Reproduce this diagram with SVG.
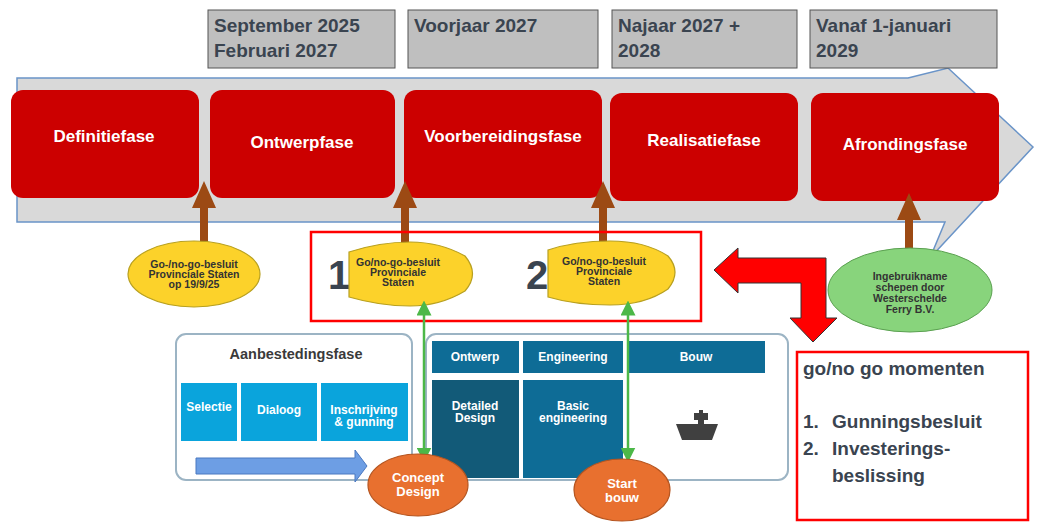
<svg xmlns="http://www.w3.org/2000/svg" width="1049" height="531" viewBox="0 0 1049 531">
<style>
text{font-family:"Liberation Sans",Arial,sans-serif;font-weight:bold}
.date{fill:#bfbfbf;stroke:#555;stroke-width:1}
.dt{font-size:19px;fill:#3a4450}
.phase{fill:#cc0000}
.pt{font-size:17px;fill:#fff;text-anchor:middle}
.yel{fill:#fcd22a;stroke:#b8a020;stroke-width:1.2}
.yt{font-size:10.5px;fill:#333;text-anchor:middle}
.up{fill:#9c4a14}
.blue{fill:#0aa4dc}
.bt{font-size:12px;fill:#fff;text-anchor:middle}
.dark{fill:#0e6c96}
.org{fill:#e8702f;stroke:#b55520;stroke-width:1.2}
.ot{font-size:13px;fill:#fff;text-anchor:middle}
.grn{stroke:#4cb848;stroke-width:2.5;fill:none}
</style>
<defs>
<marker id="ga" markerWidth="6" markerHeight="6" refX="3" refY="3" orient="auto-start-reverse" markerUnits="strokeWidth"><path d="M0,0 L6,3 L0,6 z" fill="#4cb848"/></marker>
</defs>
<rect width="1049" height="531" fill="#fff"/>
<g id="bigarrow"><polygon points="17,78 908,78 948,68 1033,147 930,258 945,222 17,222" fill="#d9d9d9" stroke="#6a94c8" stroke-width="1.5"/></g>
<g id="dates">
<rect class="date" x="208" y="10" width="187" height="58"/><text class="dt" x="214" y="32">September 2025</text><text class="dt" x="214" y="57">Februari 2027</text>
<rect class="date" x="408" y="10" width="190" height="58"/><text class="dt" x="414" y="32">Voorjaar 2027</text>
<rect class="date" x="612" y="10" width="185" height="58"/><text class="dt" x="618" y="32">Najaar 2027 +</text><text class="dt" x="618" y="57">2028</text>
<rect class="date" x="810" y="10" width="187" height="58"/><text class="dt" x="816" y="32">Vanaf 1-januari</text><text class="dt" x="816" y="57">2029</text>
</g>
<g id="phases">
<rect class="phase" x="11" y="90" width="188" height="108" rx="12"/><text class="pt" x="104" y="142">Definitiefase</text>
<rect class="phase" x="210" y="90" width="185" height="108" rx="12"/><text class="pt" x="302" y="148">Ontwerpfase</text>
<rect class="phase" x="404" y="90" width="198" height="108" rx="12"/><text class="pt" x="503" y="142">Voorbereidingsfase</text>
<rect class="phase" x="610" y="93" width="188" height="108" rx="12"/><text class="pt" x="704" y="146">Realisatiefase</text>
<rect class="phase" x="811" y="93" width="188" height="108" rx="12"/><text class="pt" x="905" y="150">Afrondingsfase</text>
</g>
<g id="uparrows">
<polygon class="up" points="200,255 200,208 192,208 204,181 216,208 208,208 208,255"/>
<polygon class="up" points="401,245 401,208 393,208 405,181 417,208 409,208 409,245"/>
<polygon class="up" points="599,245 599,208 591,208 603,181 615,208 607,208 607,245"/>
<polygon class="up" points="905,255 905,220 897,220 909,193 921,220 913,220 913,255"/>
</g>
<rect x="311" y="232" width="390" height="89" fill="none" stroke="#f00" stroke-width="2.5"/>
<g id="go0"><ellipse class="yel" cx="194" cy="274" rx="66" ry="33"/><text class="yt" x="194" y="268">Go-/no-go-besluit</text><text class="yt" x="194" y="278">Provinciale Staten</text><text class="yt" x="194" y="288">op 19/9/25</text></g>
<text x="328" y="289" font-size="40" fill="#3a4450">1</text>
<g id="go1"><path d="M349,252 Q380,242 410,242 Q440,242 465,256 Q480,274 465,291 Q440,306 410,306 Q380,306 349,297 Z" class="yel"/><text class="yt" x="398" y="266">Go/no-go-besluit</text><text class="yt" x="398" y="276">Provinciale</text><text class="yt" x="398" y="286">Staten</text></g>
<text x="526" y="289" font-size="40" fill="#3a4450">2</text>
<g id="go2"><path d="M548,250 Q575,241 610,241 Q645,241 668,256 Q682,272 668,289 Q645,305 610,305 Q575,305 548,297 Z" class="yel"/><text class="yt" x="604" y="265">Go/no-go-besluit</text><text class="yt" x="604" y="275">Provinciale</text><text class="yt" x="604" y="285">Staten</text></g>
<g id="ingebruik"><ellipse cx="910" cy="290" rx="82" ry="42" fill="#88d47c" stroke="#5aa050"/><text class="yt" x="910" y="280">Ingebruikname</text><text class="yt" x="910" y="291">schepen door</text><text class="yt" x="910" y="302">Westerschelde</text><text class="yt" x="910" y="313">Ferry B.V.</text></g>
<g id="redarrow"><polygon points="714,270 738,248 738,258 826,258 826,318 837,318 813,342 790,318 801,318 801,283 738,283 738,293" fill="#f00" stroke="#333" stroke-width="1"/></g>
<g id="aanbesteding">
<rect x="176" y="334" width="236" height="146" rx="10" fill="#fff" stroke="#9cb4c4" stroke-width="2"/>
<text x="296" y="359" font-size="14.5" fill="#3a3a3a" text-anchor="middle">Aanbestedingsfase</text>
<rect class="blue" x="181" y="383" width="56" height="58"/><text class="bt" x="209" y="411">Selectie</text>
<rect class="blue" x="241" y="383" width="76" height="58"/><text class="bt" x="279" y="414">Dialoog</text>
<rect class="blue" x="321" y="383" width="87" height="58"/><text class="bt" x="364" y="414">Inschrijving</text><text class="bt" x="364" y="426">&amp; gunning</text>
<polygon points="196,458 355,458 355,450 367,466 355,482 355,474 196,474" fill="#6d9ee4" stroke="#4a78c0"/>
</g>
<g id="realisatie">
<rect x="426" y="334" width="362" height="146" rx="10" fill="#fff" stroke="#9cb4c4" stroke-width="2"/>
<rect class="dark" x="432" y="341" width="87" height="32"/><text class="bt" x="475" y="361">Ontwerp</text>
<rect class="dark" x="523" y="341" width="100" height="32"/><text class="bt" x="573" y="361">Engineering</text>
<rect class="dark" x="627" y="341" width="138" height="32"/><text class="bt" x="696" y="361">Bouw</text>
<rect x="432" y="380" width="87" height="98" fill="#125a78"/><text class="bt" x="475" y="410">Detailed</text><text class="bt" x="475" y="422">Design</text>
<rect class="dark" x="523" y="380" width="100" height="98"/><text class="bt" x="573" y="410">Basic</text><text class="bt" x="573" y="422">engineering</text>
<path d="M688,424 h10 v-4 h-4 v-7 h5 v-3 h4 v3 h5 v7 h-4 v4 h6 z M676,424 h42 l-6,16 h-30 z" fill="#404040"/>
</g>
<g id="connectors">
<line class="grn" x1="424" y1="308" x2="424" y2="455" marker-start="url(#ga)" marker-end="url(#ga)"/>
<line class="grn" x1="628" y1="308" x2="628" y2="455" marker-start="url(#ga)" marker-end="url(#ga)"/>
</g>
<g id="concept"><ellipse class="org" cx="418" cy="485" rx="50" ry="31"/><text class="ot" x="418" y="482">Concept</text><text class="ot" x="418" y="496">Design</text></g>
<g id="start"><ellipse class="org" cx="622" cy="490" rx="48" ry="31"/><text class="ot" x="622" y="488">Start</text><text class="ot" x="622" y="502">bouw</text></g>
<g id="gonogo">
<rect x="797" y="352" width="231" height="168" fill="#fff" stroke="#f00" stroke-width="2.5"/>
<text x="803" y="375" font-size="19" fill="#3a4450">go/no go momenten</text>
<text x="803" y="428" font-size="19" fill="#3a4450">1.</text><text x="832" y="428" font-size="19" fill="#3a4450">Gunningsbesluit</text>
<text x="803" y="455" font-size="19" fill="#3a4450">2.</text><text x="832" y="455" font-size="19" fill="#3a4450">Investerings-</text>
<text x="832" y="482" font-size="19" fill="#3a4450">beslissing</text>
</g>
</svg>
